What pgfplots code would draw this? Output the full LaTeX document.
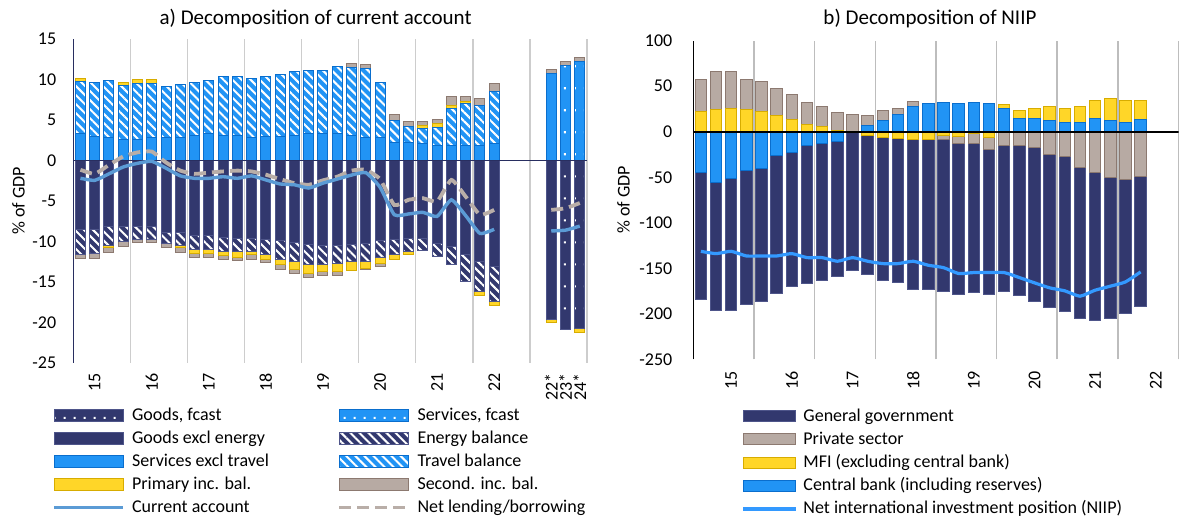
\documentclass[border=0pt]{standalone}
\usepackage{fontspec}
\setmainfont{Carlito}
\usepackage{pgfplots}
\pgfplotsset{compat=1.18}
\usepackage{pgfplotstable}
\usetikzlibrary{patterns.meta}

\definecolor{cmnavy}{RGB}{50,56,110}
\definecolor{cmnavyedge}{RGB}{78,85,138}
\definecolor{cmblue}{RGB}{33,148,245}
\definecolor{cmblueedge}{RGB}{10,110,205}
\definecolor{cmyel}{RGB}{255,214,40}
\definecolor{cmyeledge}{RGB}{215,172,0}
\definecolor{cmbrn}{RGB}{183,170,163}
\definecolor{cmbrnedge}{RGB}{140,121,112}
\definecolor{cmca}{RGB}{91,155,213}
\definecolor{cmnl}{RGB}{185,174,168}
\definecolor{cmniip}{RGB}{51,153,255}
\definecolor{cmaxis}{RGB}{40,46,96}
\definecolor{cmgrid}{RGB}{205,205,205}

\newcommand{\tickfont}{\fontsize{9}{10.8}\selectfont}
\newcommand{\legfont}{\fontsize{9}{10.8}\selectfont}
\newcommand{\titlefont}{\fontsize{10.5}{12.6}\selectfont}
\newcommand{\ls}{\rule[-2pt]{0pt}{8.5pt}}

% sparse white dots for the forecast bars
\pgfdeclarepattern{
  name=fcdots,
  type=uncolored,
  bottom left={\pgfpoint{0pt}{0pt}},
  top right={\pgfpoint{5pt}{11pt}},
  tile size={\pgfpoint{5pt}{11pt}},
  code={\pgfpathrectangle{\pgfpoint{2pt}{5pt}}{\pgfpoint{1.1pt}{1.1pt}}\pgfusepath{fill}}
}

\tikzset{
  gex/.style={fill=cmnavy, draw=cmnavyedge, line width=0.5pt},
  enb/.style={gex, postaction={pattern={Lines[angle=-45,distance=3.2pt,line width=1pt]}, pattern color=white}},
  gfc/.style={gex, postaction={pattern=fcdots, pattern color=white}},
  sxt/.style={fill=cmblue, draw=cmblueedge, line width=0.5pt},
  trb/.style={sxt, postaction={pattern={Lines[angle=-45,distance=3.2pt,line width=1pt]}, pattern color=white}},
  sfc/.style={sxt, postaction={pattern=fcdots, pattern color=white}},
  pri/.style={fill=cmyel, draw=cmyeledge, line width=0.5pt},
  sec/.style={fill=cmbrn, draw=cmbrnedge, line width=0.5pt},
  cal/.style={draw=cmca, line width=1.7pt},
  nll/.style={draw=cmnl, line width=1.9pt, dash pattern=on 6pt off 3pt},
  niip/.style={draw=cmniip, line width=1.6pt},
}

\pgfplotsset{
  swA/.style={legend image code/.code={\draw[##1] (0pt,-3pt) rectangle (34.65pt,3pt);}},
  lnA/.style={legend image code/.code={\draw[##1] (0pt,0pt) -- (34.65pt,0pt);}},
  swB/.style={legend image code/.code={\draw[##1] (0pt,-2.75pt) rectangle (26.25pt,2.75pt);}},
  lnB/.style={legend image code/.code={\draw[##1] (0pt,0pt) -- (26.25pt,0pt);}},
  lbar/.style={ybar, bar width=0.7, bar shift=0pt, forget plot},
  rbar/.style={ybar, bar width=0.76, bar shift=0pt, forget plot},
}

% current account components, % of GDP (quarterly, 2014Q4-2022Q1, then 22*)
\pgfplotstableread{
i  sx   tr   pip  sip  ge     en    pin   sin
0  3.3  6.45 0.4  0    -8.55  -3.1  0     -0.5
1  3.0  6.67 0    0    -8.55  -2.95 0     -0.6
2  2.9  7.0  0    0    -8.2   -2.3  -0.2  -0.6
3  2.6  6.7  0.35 0    -8.2   -1.8  0     -0.6
4  2.55 7.0  0.4  0    -8.15  -1.55 0     -0.4
5  2.8  6.75 0.4  0    -8.15  -1.55 0     -0.4
6  2.9  6.25 0    0    -8.9   -1.3  0     -0.5
7  2.9  6.5  0    0    -8.9   -1.6  -0.2  -0.65
8  3.1  6.5  0    0    -9.2   -1.75 -0.55 -0.45
9  3.3  6.6  0    0    -9.2   -1.75 -0.5  -0.5
10 3.05 7.3  0    0    -9.45  -1.8  -0.5  -0.45
11 3.1  7.25 0    0    -9.6   -1.65 -0.7  -0.45
12 2.9  7.2  0    0    -9.6   -1.65 -0.4  -0.55
13 2.95 7.4  0    0    -9.7   -1.95 -0.55 -0.45
14 2.95 7.7  0    0    -9.9   -2.3  -0.7  -0.5
15 3.1  7.85 0    0    -10.1  -2.35 -0.95 -0.5
16 3.3  7.85 0    0    -10.4  -2.5  -1.0  -0.5
17 3.3  7.85 0    0    -10.5  -2.4  -0.8  -0.5
18 3.3  8.3  0    0    -10.5  -2.25 -0.95 -0.5
19 3.1  8.4  0    0.45 -10.4  -2.1  -1.1  0
20 2.9  8.4  0    0.6  -10.2  -2.3  -0.8  -0.2
21 2.9  6.7  0    0    -9.9   -2.05 -0.75 -0.4
22 2.2  2.75 0    0.7  -9.7   -1.95 -0.55 0
23 2.2  2.0  0    0.6  -9.6   -1.65 -0.4  0
24 2.05 1.9  0.4  0.45 -9.6   -1.5  0     0
25 1.9  2.2  0.5  0.5  -10.2  -1.65 0     0
26 1.9  4.5  0.45 1.0  -10.6  -2.3  0     0
27 1.8  5.2  0.3  0.6  -11.65 -3.3  0     0
28 1.9  4.85 0    0.9  -12.45 -3.75 -0.5  0
29 2.05 6.45 0    0.95 -13.1  -4.3  -0.55 0
33 10.8 0    0    0.4  -19.6  0     -0.4  0
}\cadata

% forecasts 23*, 24*
\pgfplotstableread{
i  sf   sip  gf     pin
34 11.7 0.5  -20.9  0
35 12.2 0.55 -20.8  -0.4
}\fcdata

\pgfplotstableread{
i  ca    nl
0  -2.2  -1.15
1  -2.45 -1.65
2  -1.65 -0.55
3  -0.8  0.5
4  -0.35 1.0
5  -0.1  1.1
6  -0.95 -0.25
7  -1.9  -1.25
8  -2.2  -1.65
9  -2.2  -1.5
10 -2.0  -1.35
11 -2.2  -1.25
12 -1.9  -1.35
13 -2.4  -1.75
14 -2.9  -2.3
15 -3.0  -2.8
16 -3.4  -3.0
17 -2.8  -2.45
18 -2.3  -2.0
19 -1.8  -1.25
20 -1.5  -1.15
21 -3.3  -2.3
22 -6.7  -5.5
23 -6.6  -4.85
24 -6.4  -4.65
25 -6.9  -5.05
26 -4.85 -2.4
27 -6.8  -4.45
28 -9.0  -6.7
29 -8.5  -6.1
}\linehist

\pgfplotstableread{
i  ca    nl
33 -8.7  -6.1
34 -8.6  -5.9
35 -8.1  -5.25
}\linefc

% NIIP components, % of GDP
\pgfplotstableread{
i  cb     mfi   prv    gg      niip
0  -44.6  22    35     -139.7  -131.4
1  -55.8  24    42     -140.2  -133.9
2  -51.3  26    40     -144.7  -131.4
3  -42.8  24    33     -146.6  -136.5
4  -40.1  22    33     -146.8  -136.5
5  -26    18    30     -151.7  -136.5
6  -22.3  13    28     -148.1  -133.9
7  -14.9  8     24.5   -151.9  -138.3
8  -13    5.5   22     -150.9  -138.3
9  -10.4  1.5   19.5   -149.1  -142.3
10 0      0     18.5   -152    -138.3
11 7      -4    11     -152.6  -142.3
12 12.5   -5.8  10.5   -158    -144.9
13 19     -7.8  6.5    -158.2  -144.9
14 28     -8    5.5    -165.4  -142.3
15 30.5   -9    0      -164.4  -146.7
16 32     -4    -4.8   -167.1  -149.3
17 30.5   -5    -7.5   -166    -155.8
18 32.5   -2    -11    -164    -154.7
19 30.5   -5.9  -13.9  -158.7  -154.7
20 25.5   4.8   -15    -160.9  -154.7
21 15     8     -15    -164.6  -160.2
22 15     10.5  -17.6  -169.3  -166
23 12.5   15    -24.5  -168.5  -171.5
24 10.2   15    -27    -170.8  -174.8
25 10.2   17.5  -39    -166    -180.7
26 15     19.5  -45    -161.9  -174.1
27 12.5   23.5  -50    -155    -169.7
28 10.5   24    -52    -147.6  -165
29 13     21.5  -49.5  -142.1  -154
}\niipdata

\begin{document}
\begin{tikzpicture}
\useasboundingbox (0,0) rectangle (598.5pt,258.5pt);

% ---------------- a) current account ----------------
\begin{axis}[
  at={(36.65pt,77pt)}, anchor=south west,
  scale only axis, width=256.8pt, height=162pt,
  xmin=-0.5, xmax=35.5, ymin=-25, ymax=15,
  ytick={-25,-20,...,15},
  xtick={1,5,9,13,17,21,25,29,33,34,35},
  xticklabels={15,16,17,18,19,20,21,22,22*,23*,24*},
  minor xtick={3.5,7.5,...,35.5},
  xminorgrids, minor grid style={draw=cmgrid, line width=0.75pt},
  axis y line*=left, axis x line*=bottom,
  x axis line style={draw=none},
  y axis line style={draw=cmaxis, line width=0.7pt},
  tick style={draw=none},
  tick label style={font=\tickfont},
  /pgf/number format/assume math mode=true,
  xticklabel style={rotate=90, anchor=east},
  xticklabel shift=1.5pt, yticklabel shift=5pt,
  ylabel={\% of GDP},
  every axis y label/.style={at={(axis description cs:-0.1067,0.5)}, rotate=90, anchor=center, font=\tickfont},
  title={a) Decomposition of current account},
  every axis title/.style={at={(axis description cs:0.4718,1.0448)}, anchor=base, font=\titlefont},
  legend columns=2, legend cell align=left,
  legend style={at={(-0.0407,-0.1374)}, anchor=north west, draw=none, fill=none,
    inner sep=0pt, outer sep=0pt, row sep=3.5pt, font=\legfont, nodes={inner sep=0pt},
    /tikz/every odd column/.append style={column sep=3.5pt},
    /tikz/every even column/.append style={column sep=0pt}},
]
% positive side, outermost first
\addplot[lbar, sec] table[x=i, y expr=\thisrow{sx}+\thisrow{tr}+\thisrow{pip}+\thisrow{sip}] {\cadata};
\addplot[lbar, pri] table[x=i, y expr=\thisrow{sx}+\thisrow{tr}+\thisrow{pip}] {\cadata};
\addplot[lbar, trb] table[x=i, y expr=\thisrow{sx}+\thisrow{tr}] {\cadata};
\addplot[lbar, sxt] table[x=i, y=sx] {\cadata};
% negative side
\addplot[lbar, sec] table[x=i, y expr=\thisrow{ge}+\thisrow{en}+\thisrow{pin}+\thisrow{sin}] {\cadata};
\addplot[lbar, pri] table[x=i, y expr=\thisrow{ge}+\thisrow{en}+\thisrow{pin}] {\cadata};
\addplot[lbar, enb] table[x=i, y expr=\thisrow{ge}+\thisrow{en}] {\cadata};
\addplot[lbar, gex] table[x=i, y=ge] {\cadata};
% forecasts
\addplot[lbar, sec] table[x=i, y expr=\thisrow{sf}+\thisrow{sip}] {\fcdata};
\addplot[lbar, sfc] table[x=i, y=sf] {\fcdata};
\addplot[lbar, pri] table[x=i, y expr=\thisrow{gf}+\thisrow{pin}] {\fcdata};
\addplot[lbar, gfc] table[x=i, y=gf] {\fcdata};
% zero line
\addplot[draw=cmaxis, line width=0.7pt, forget plot] coordinates {(-0.5,0) (35.5,0)};
% lines
\addplot[nll, smooth, tension=0.3, forget plot] table[x=i, y=nl] {\linehist};
\addplot[nll, smooth, tension=0.3, forget plot] table[x=i, y=nl] {\linefc};
\addplot[cal, smooth, tension=0.3, forget plot] table[x=i, y=ca] {\linehist};
\addplot[cal, smooth, tension=0.3, forget plot] table[x=i, y=ca] {\linefc};

\addlegendimage{swA, gfc}\addlegendentry{\makebox[102.65pt][l]{\ls Goods, fcast}}
\addlegendimage{swA, sfc}\addlegendentry{\ls Services, fcast}
\addlegendimage{swA, gex}\addlegendentry{\makebox[102.65pt][l]{\ls Goods excl energy}}
\addlegendimage{swA, enb}\addlegendentry{\ls Energy balance}
\addlegendimage{swA, sxt}\addlegendentry{\makebox[102.65pt][l]{\ls Services excl travel}}
\addlegendimage{swA, trb}\addlegendentry{\ls Travel balance}
\addlegendimage{swA, pri}\addlegendentry{\makebox[102.65pt][l]{\ls Primary inc. bal.}}
\addlegendimage{swA, sec}\addlegendentry{\ls Second. inc. bal.}
\addlegendimage{lnA, cal}\addlegendentry{\makebox[102.65pt][l]{\ls Current account}}
\addlegendimage{lnA, nll}\addlegendentry{\ls Net lending/borrowing}
\end{axis}

% ---------------- b) NIIP ----------------
\begin{axis}[
  at={(346.65pt,78.85pt)}, anchor=south west,
  scale only axis, width=242.6pt, height=159.3pt,
  xmin=-0.5, xmax=31.5, ymin=-250, ymax=100,
  ytick={-250,-200,...,100},
  xtick={2,6,...,30},
  xticklabels={15,16,17,18,19,20,21,22},
  minor xtick={3.5,7.5,...,31.5},
  xminorgrids, minor grid style={draw=cmgrid!92!black, line width=0.75pt},
  axis y line*=left, axis x line*=bottom,
  x axis line style={draw=none},
  y axis line style={draw=black, line width=0.8pt},
  tick style={draw=none},
  tick label style={font=\tickfont},
  /pgf/number format/assume math mode=true,
  xticklabel style={rotate=90, anchor=east},
  xticklabel shift=2.5pt, yticklabel shift=7pt,
  ylabel={\% of GDP},
  every axis y label/.style={at={(axis description cs:-0.1439,0.5)}, rotate=90, anchor=center, font=\tickfont},
  title={b) Decomposition of NIIP},
  every axis title/.style={at={(axis description cs:0.4878,1.0493)}, anchor=base, font=\titlefont},
  legend columns=1, legend cell align=left,
  legend style={at={(0.0998,-0.1544)}, anchor=north west, draw=none, fill=none,
    inner sep=0pt, outer sep=0pt, row sep=3.5pt, font=\legfont, nodes={inner sep=0pt},
    /tikz/every odd column/.append style={column sep=3pt}},
]
% positive side
\addplot[rbar, sec] table[x=i, y expr={max(\thisrow{cb},0)+max(\thisrow{mfi},0)+max(\thisrow{prv},0)}] {\niipdata};
\addplot[rbar, pri] table[x=i, y expr={max(\thisrow{cb},0)+max(\thisrow{mfi},0)}] {\niipdata};
\addplot[rbar, sxt] table[x=i, y expr={max(\thisrow{cb},0)}] {\niipdata};
% negative side
\addplot[rbar, gex] table[x=i, y expr={min(\thisrow{cb},0)+min(\thisrow{mfi},0)+min(\thisrow{prv},0)+\thisrow{gg}}] {\niipdata};
\addplot[rbar, sec] table[x=i, y expr={min(\thisrow{cb},0)+min(\thisrow{mfi},0)+min(\thisrow{prv},0)}] {\niipdata};
\addplot[rbar, pri] table[x=i, y expr={min(\thisrow{cb},0)+min(\thisrow{mfi},0)}] {\niipdata};
\addplot[rbar, sxt] table[x=i, y expr={min(\thisrow{cb},0)}] {\niipdata};
\addplot[draw=black, line width=1pt, forget plot] coordinates {(-0.5,0) (31.5,0)};
\addplot[niip, smooth, tension=0.3, forget plot] table[x=i, y=niip] {\niipdata};

\addlegendimage{swB, gex}\addlegendentry{\ls General government}
\addlegendimage{swB, sec}\addlegendentry{\ls Private sector}
\addlegendimage{swB, pri}\addlegendentry{\ls MFI (excluding central bank)}
\addlegendimage{swB, sxt}\addlegendentry{\ls Central bank (including reserves)}
\addlegendimage{lnB, niip}\addlegendentry{\ls Net international investment position (NIIP)}
\end{axis}
\end{tikzpicture}
\end{document}
